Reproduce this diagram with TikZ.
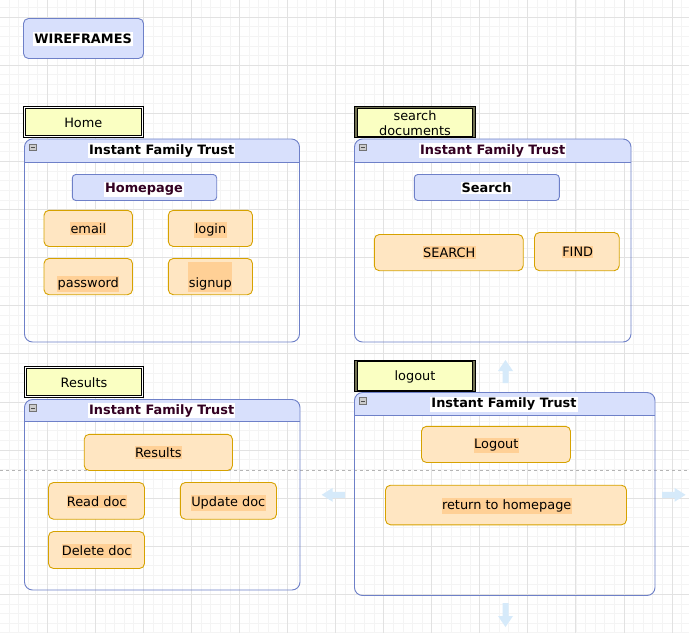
\documentclass[tikz,border=0pt]{standalone}
\usepackage{fontspec}
\setmainfont{DejaVu Sans}
\definecolor{hdr}{HTML}{D8E0FC}
\definecolor{blueline}{HTML}{6E80C8}
\definecolor{orfill}{HTML}{FFE6C2}
\definecolor{orline}{HTML}{D6A200}
\definecolor{orlbl}{HTML}{FFD096}
\definecolor{yel}{HTML}{FAFFC2}
\definecolor{olive}{HTML}{707052}
\definecolor{maroonc}{HTML}{330022}
\definecolor{gridmaj}{HTML}{E2E2E2}
\definecolor{gridmin}{HTML}{F4F4F4}
\definecolor{hint}{HTML}{D6EAFA}
\definecolor{pagebreak}{HTML}{B4B4B4}
\newcommand\boxat[6]{\node[#2, anchor=north west, minimum width={#5-#3}, minimum height={#6-#4}] (#1) at (#3,#4) {};}
\tikzset{
  every node/.style={inner sep=0pt, outer sep=0pt},
  panelbox/.style={draw=blueline, line width=0.9pt, rounded corners=8pt},
  lavbtn/.style={draw=blueline, fill=hdr, line width=0.9pt, rounded corners=3.5pt},
  orbox/.style={draw=orline, fill=orfill, line width=0.9pt, rounded corners=5pt},
  tx/.style={font=\fontsize{12.9}{15}\selectfont, anchor=base, inner xsep=0.3pt, inner ysep=1.6pt},
  otx/.style={tx, fill=orlbl},
  ttl/.style={font=\fontsize{12.9}{15}\selectfont\bfseries, anchor=base, inner xsep=1pt, inner ysep=1.3pt, fill=white},
  minusicon/.style={draw=gray!90!black, fill=gray!40, line width=0.6pt, minimum size=6.5pt},
}
\begin{document}
\begin{tikzpicture}[x=1pt,y=-1pt]
\useasboundingbox (0,0) rectangle (689,633);
\fill[white] (0,0) rectangle (689,633);
% grid
\foreach \k in {0,...,75}{
  \pgfmathsetmacro\gx{-0.73+9.61*\k}
  \pgfmathsetmacro\gy{17.1-19.22+9.62*\k}
  \draw[gridmin, line width=0.7pt] (\gx,0) -- (\gx,633);
  \draw[gridmin, line width=0.7pt] (0,\gy) -- (689,\gy);
}
\foreach \k in {0,...,15}{
  \pgfmathsetmacro\gx{-0.73+48.05*\k}
  \pgfmathsetmacro\gy{17.1-48.1+48.1*\k}
  \draw[gridmaj, line width=0.8pt] (\gx,0) -- (\gx,633);
  \draw[gridmaj, line width=0.8pt] (0,\gy) -- (689,\gy);
}
% page break line
\coordinate (pbL) at (0,470);
\coordinate (pbR) at (689,470);
\draw[pagebreak, line width=0.8pt, dash pattern=on 3pt off 3pt] (pbL) -- (pbR);

% hint arrows
\fill[hint] (505.5,360) -- (513,371) -- (508.5,371) -- (508.5,383) -- (502.5,383) -- (502.5,371) -- (498,371) -- cycle;
\fill[hint] (505.5,627) -- (513,616) -- (508.5,616) -- (508.5,603) -- (502.5,603) -- (502.5,616) -- (498,616) -- cycle;
\fill[hint] (321.7,494.8) -- (332.7,487.8) -- (332.7,491.8) -- (345,491.8) -- (345,497.8) -- (332.7,497.8) -- (332.7,501.8) -- cycle;
\fill[hint] (685.5,494.8) -- (674.5,487.8) -- (674.5,491.8) -- (662,491.8) -- (662,497.8) -- (674.5,497.8) -- (674.5,501.8) -- cycle;

% title box
\boxat{wire}{lavbtn, rounded corners=5pt}{23.5}{18.5}{143.5}{58.5}
\node[ttl, text=black, inner ysep=2.2pt] (t-wire) at (83.2,43.3) {WIREFRAMES};

% ---- panels: headers
\foreach \xa/\ya/\xb/\yb/\yh in {24.5/139/299.5/342/162, 354.5/139/631/342/162, 24.5/399.5/300/590/421.5, 354.5/392.5/655/595.5/415.5}{
  \begin{scope}
    \clip (\xa-2,\ya-2) rectangle (\xb+2,\yh);
    \fill[hdr, rounded corners=8pt] (\xa,\ya) rectangle (\xb,\yb);
  \end{scope}
  \draw[blueline, line width=0.9pt] (\xa,\yh) -- (\xb,\yh);
  \node[minusicon] at (\xa+8.5,\ya+8.5) {};
  \draw[black!70, line width=0.8pt] (\xa+6.5,\ya+8.5) -- (\xa+10.5,\ya+8.5);
}
\boxat{p1}{panelbox}{24.5}{139}{299.5}{342}
\boxat{p2}{panelbox}{354.5}{139}{631}{342}
\boxat{p3}{panelbox}{24.5}{399.5}{300}{590}
\boxat{p4}{panelbox}{354.5}{392.5}{655}{595.5}

\node[ttl, text=black] (t-p1) at (161.7,154) {Instant Family Trust};
\node[ttl, text=maroonc] (t-p2) at (492.7,154) {Instant Family Trust};
\node[ttl, text=maroonc] (t-p3) at (161.7,414) {Instant Family Trust};
\node[ttl, text=black] (t-p4) at (504,407.8) {Instant Family Trust};

% ---- labels above panels
\filldraw[fill=white, draw=black, line width=0.7pt] (23.6,106.4) rectangle (142.9,137.2);
\filldraw[fill=yel, draw=black, line width=0.7pt] (25.5,108.3) rectangle (141,135.3);
\node (lab-home) at (83.3,121.8) {};
\node[tx] (t-home) at (83.3,127.3) {Home};

\filldraw[fill=white, draw=black, line width=0.7pt] (24.4,366.4) rectangle (143.7,397.6);
\filldraw[fill=yel, draw=black, line width=0.7pt] (26.3,368.3) rectangle (141.8,395.7);
\node (lab-results) at (84,382) {};
\node[tx] (t-results) at (84,387.3) {Results};

\filldraw[fill=olive, draw=black, line width=0.6pt] (354.5,106.7) rectangle (475.5,137.7);
\filldraw[fill=yel, draw=black, line width=0.6pt] (357.6,107.9) rectangle (472.4,136.5);
\node (lab-search) at (415,122) {};
\node[tx] (t-search1) at (415,120) {search};
\node[tx] (t-search2) at (415,135.7) {documents};

\filldraw[fill=olive, draw=black, line width=0.6pt] (354.5,360.3) rectangle (475.5,391.7);
\filldraw[fill=yel, draw=black, line width=0.6pt] (357.6,361.5) rectangle (472.4,390.5);
\node (lab-logout) at (415,376) {};
\node[tx] (t-logoutlab) at (415,380.3) {logout};

% ---- panel 1
\boxat{homepage}{lavbtn}{72.3}{174.5}{216.7}{200.5}
\node[ttl, text=maroonc] (t-homepage) at (144,192.5) {Homepage};
\boxat{email}{orbox}{44}{210.3}{132.5}{246.5}
\node[otx] (t-email) at (88.3,233.3) {email};
\boxat{login}{orbox}{168.3}{210.3}{252.5}{246.5}
\node[otx] (t-login) at (210.5,233.3) {login\hspace{3.6pt}};
\boxat{password}{orbox}{44}{258.5}{132.5}{294.7}
\node[otx] (t-password) at (88.3,287.5) {password};
\boxat{signup}{orbox}{168.3}{258.5}{252.5}{294.7}
\node[otx, text height=24pt, minimum width=42.7pt] (t-signup) at (210.3,287.5) {signup};

% ---- panel 2
\boxat{searchbtn}{lavbtn}{414.3}{174.5}{559.3}{200.5}
\node[ttl, text=black] (t-searchbtn) at (486.5,192.8) {Search};
\boxat{SEARCH}{orbox}{374.3}{234.5}{523.2}{270.7}
\node[otx] (t-SEARCH) at (449.3,257.5) {SEARCH};
\boxat{FIND}{orbox}{534.5}{232.5}{619.2}{270.7}
\node[otx] (t-FIND) at (577.7,256.7) {FIND};

% ---- panel 3
\boxat{resbox}{orbox}{84.2}{434.3}{232.5}{470.5}
\node[otx] (t-resbox) at (158.3,457.5) {Results};
\boxat{read}{orbox}{48.5}{482.5}{144.5}{519.2}
\node[otx] (t-read) at (96.7,506.5) {Read doc};
\boxat{update}{orbox}{180.3}{482.5}{276.5}{519.2}
\node[otx] (t-update) at (228.3,506.5) {Update doc};
\boxat{delete}{orbox}{48.5}{531.5}{144.5}{568.5}
\node[otx] (t-delete) at (96.7,555.8) {Delete doc};

% ---- panel 4
\boxat{logoutbtn}{orbox}{421.5}{426.3}{570.5}{462.5}
\node[otx] (t-logoutbtn) at (496.3,448.8) {Logout\hspace{3.6pt}};
\boxat{returnbtn}{orbox}{385.5}{485.2}{626.5}{524.8}
\node[otx] (t-return) at (506.7,509.5) {return to homepage};
\end{tikzpicture}
\end{document}
